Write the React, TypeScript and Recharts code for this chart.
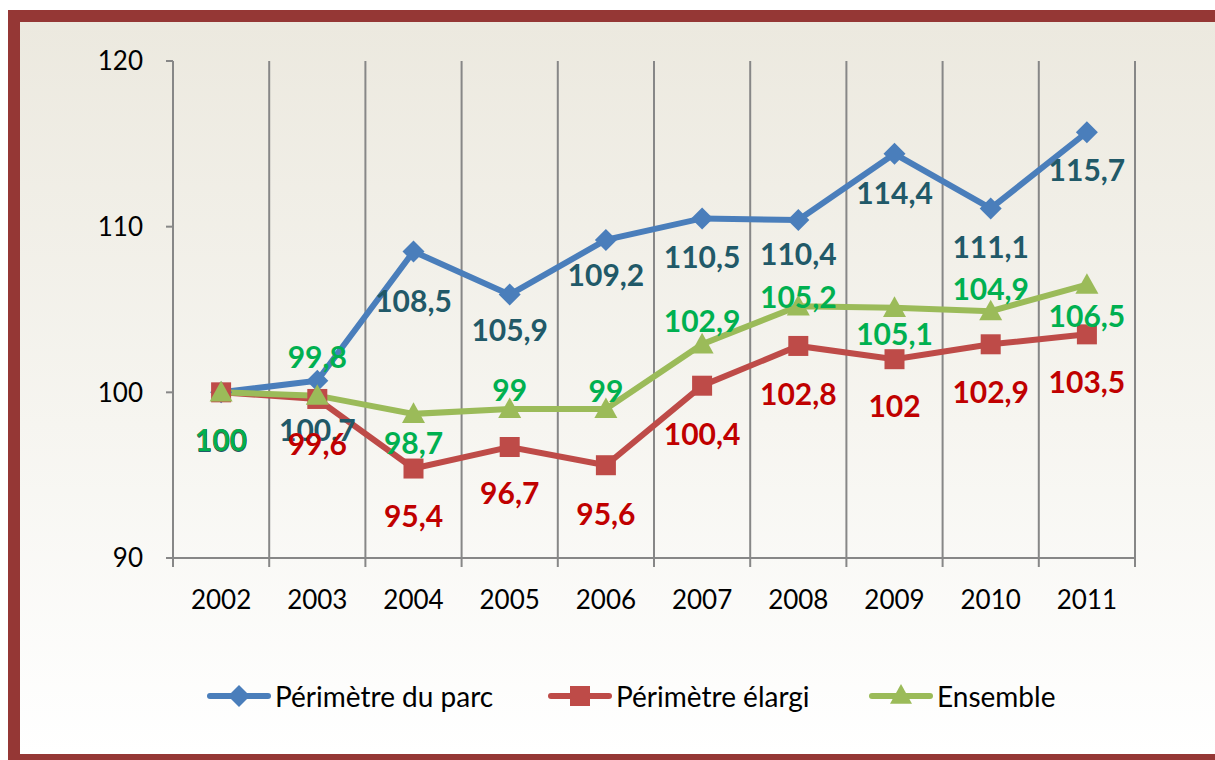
import { CartesianGrid, LabelList, Line, LineChart, XAxis, YAxis } from "recharts";

const years = ["2002", "2003", "2004", "2005", "2006", "2007", "2008", "2009", "2010", "2011"];
const perimetreParc = [100, 100.7, 108.5, 105.9, 109.2, 110.5, 110.4, 114.4, 111.1, 115.7];
const perimetreElargi = [100, 99.6, 95.4, 96.7, 95.6, 100.4, 102.8, 102, 102.9, 103.5];
const ensemble = [100, 99.8, 98.7, 99, 99, 102.9, 105.2, 105.1, 104.9, 106.5];
const yTicks = [90, 100, 110, 120];

// where each value label sits relative to its marker (px, + is below)
const parcLabelDy = [48, 48, 48, 34, 34, 38, 33, 38, 38, 37];
const elargiLabelDy = [47, 44, 46, 45, 48, 47, 47, 46, 47, 47];
const ensembleLabelDy = [47, -40, 28, -20, -19, -24, -10, 25, -23, 30];

const data = years.map((year, i) => ({
  x: i + 0.5,
  year,
  parc: perimetreParc[i],
  elargi: perimetreElargi[i],
  ensemble: ensemble[i],
}));

const W = 1215;
const H = 760;
const margin = { top: 61, right: 80, bottom: 142, left: 103 };
const yAxisWidth = 70;
const plotWidth = W - margin.left - yAxisWidth - margin.right;
const band = plotWidth / years.length;

const BLUE = "#4A7EBB";
const RED = "#BE4B48";
const GREEN = "#9BBB59";
const AXIS = "#878787";
const FONT = "Lato, 'Liberation Sans', sans-serif";

const fmt = (v: number) => String(v).replace(".", ",");

const Diamond = ({ cx, cy, s = 11 }: any) => (
  <path d={`M${cx},${cy - s}L${cx + s},${cy}L${cx},${cy + s}L${cx - s},${cy}Z`} fill={BLUE} />
);
const Square = ({ cx, cy, s = 10 }: any) => (
  <rect x={cx - s} y={cy - s} width={s * 2} height={s * 2} fill={RED} />
);
const Triangle = ({ cx, cy, s = 11.5 }: any) => (
  <path d={`M${cx},${cy - s}L${cx + s},${cy + s * 0.8}L${cx - s},${cy + s * 0.8}Z`} fill={GREEN} />
);

const makeLabel = (dys: number[], color: string) => (props: any) => {
  const { x, y, value, index } = props;
  return (
    <text
      x={x}
      y={y + dys[index]}
      textAnchor="middle"
      dominantBaseline="central"
      fill={color}
      fontFamily={FONT}
      fontWeight="bold"
      fontSize={30}
    >
      {fmt(value)}
    </text>
  );
};

const XTick = ({ x, y, payload }: any) => {
  const i = payload.value;
  if (i >= years.length) return <g />;
  return (
    <text x={x + band / 2} y={y} dy="0.71em" textAnchor="middle" fill="#000" fontFamily={FONT} fontSize={26}>
      {years[i]}
    </text>
  );
};

const LegendIcon = ({ kind, color }: { kind: string; color: string }) => (
  <svg width={64} height={30}>
    <line x1={3} y1={15} x2={61} y2={15} stroke={color} strokeWidth={6} strokeLinecap="round" />
    {kind === "diamond" && <Diamond cx={32} cy={15} s={11} />}
    {kind === "square" && <Square cx={32} cy={15} s={10} />}
    {kind === "triangle" && <Triangle cx={32} cy={14} s={11} />}
  </svg>
);

const legendItems = [
  { name: "Périmètre du parc", color: BLUE, kind: "diamond", left: 207 },
  { name: "Périmètre élargi", color: RED, kind: "square", left: 548 },
  { name: "Ensemble", color: GREEN, kind: "triangle", left: 869 },
];

export default function App() {
  return (
    <div style={{ position: "fixed", top: 0, left: 0, width: W, height: H, overflow: "hidden", background: "#fff" }}>
      <div
        style={{
          position: "absolute",
          left: 8,
          top: 10,
          width: 1240,
          height: 756,
          boxSizing: "border-box",
          border: "12px solid #953735",
          background: "linear-gradient(to bottom, #ECE9DF 0%, #F6F5F0 55%, #FFFFFF 100%)",
        }}
      />
      <div style={{ position: "absolute", left: 0, top: 0 }}>
        <LineChart width={W} height={H} data={data} margin={margin}>
          <CartesianGrid
            horizontal={false}
            stroke={AXIS}
            strokeWidth={2}
            verticalCoordinatesGenerator={({ offset }: any) =>
              Array.from({ length: years.length + 1 }, (_, i) => offset.left + (i * offset.width) / years.length)
            }
          />
          <XAxis
            dataKey="x"
            type="number"
            domain={[0, years.length]}
            ticks={Array.from({ length: years.length + 1 }, (_, i) => i)}
            interval={0}
            height={60}
            axisLine={{ stroke: AXIS, strokeWidth: 2 }}
            tickLine={{ stroke: AXIS, strokeWidth: 2 }}
            tickSize={9}
            tickMargin={24}
            tick={<XTick />}
          />
          <YAxis
            domain={[90, 120]}
            ticks={yTicks}
            width={yAxisWidth}
            axisLine={{ stroke: AXIS, strokeWidth: 2 }}
            tickLine={{ stroke: AXIS, strokeWidth: 2 }}
            tickSize={7}
            tickMargin={23}
            tick={{ fill: "#000", fontFamily: FONT, fontSize: 26 }}
          />
          <Line dataKey="parc" stroke={BLUE} strokeWidth={6} isAnimationActive={false}
            dot={(p: any) => <Diamond key={`d${p.index}`} cx={p.cx} cy={p.cy} />} activeDot={false} />
          <Line dataKey="elargi" stroke={RED} strokeWidth={6} isAnimationActive={false}
            dot={(p: any) => <Square key={`s${p.index}`} cx={p.cx} cy={p.cy} />} activeDot={false} />
          <Line dataKey="ensemble" stroke={GREEN} strokeWidth={6} isAnimationActive={false}
            dot={(p: any) => <Triangle key={`t${p.index}`} cx={p.cx} cy={p.cy} />} activeDot={false} />

          {/* label layers on top of all series */}
          <Line dataKey="parc" stroke="none" dot={false} activeDot={false} isAnimationActive={false} legendType="none">
            <LabelList dataKey="parc" content={makeLabel(parcLabelDy, "#215968")} />
          </Line>
          <Line dataKey="elargi" stroke="none" dot={false} activeDot={false} isAnimationActive={false} legendType="none">
            <LabelList dataKey="elargi" content={makeLabel(elargiLabelDy, "#C00000")} />
          </Line>
          <Line dataKey="ensemble" stroke="none" dot={false} activeDot={false} isAnimationActive={false} legendType="none">
            <LabelList dataKey="ensemble" content={makeLabel(ensembleLabelDy, "#00B050")} />
          </Line>
        </LineChart>
      </div>

      {/* Legend */}
      {legendItems.map((it) => (
        <div
          key={it.name}
          style={{
            position: "absolute",
            left: it.left,
            top: 679,
            display: "flex",
            alignItems: "center",
            gap: 4,
            fontFamily: FONT,
            fontSize: 28,
            color: "#000",
          }}
        >
          <LegendIcon kind={it.kind} color={it.color} />
          <span>{it.name}</span>
        </div>
      ))}
    </div>
  );
}
